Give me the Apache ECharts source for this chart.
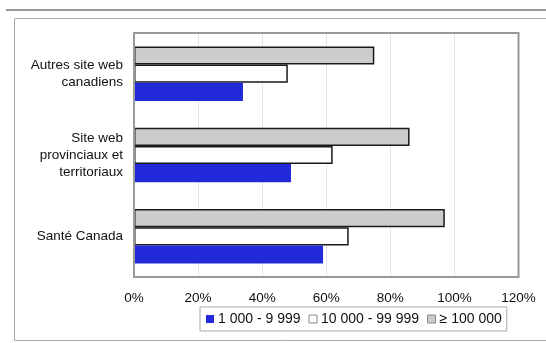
<!DOCTYPE html>
<html><head><meta charset="utf-8">
<script src="https://cdn.jsdelivr.net/npm/echarts@6/dist/echarts.min.js"></script>
<style>html,body{margin:0;padding:0;background:#fff}#c{width:546px;height:343px}</style>
</head><body><div id="c"></div>
<script>
var categories = ["Santé Canada", "Site web\nprovinciaux et\nterritoriaux", "Autres site web\ncanadiens"];
var seriesNames = ["1 000 - 9 999", "10 000 - 99 999", "≥ 100 000"];
var small = [59, 49, 34];
var medium = [67, 62, 48];
var large = [97, 86, 75];
var xTicks = [0, 20, 40, 60, 80, 100, 120];

var chart = echarts.init(document.getElementById('c'), null, {renderer: 'canvas'});
var font = 'Liberation Sans, Arial, sans-serif';
chart.setOption({
  animation: false,
  textStyle: {fontFamily: font},
  graphic: [
    {type: 'rect', shape: {x: 6, y: 9, width: 545, height: 2}, style: {fill: '#999'}, silent: true},
    {type: 'rect', shape: {x: 14.5, y: 18.5, width: 540, height: 322}, style: {fill: 'none', stroke: '#aaa', lineWidth: 1}, silent: true},
    {type: 'rect', shape: {x: 134, y: 33, width: 384.5, height: 244}, style: {fill: 'none', stroke: '#999', lineWidth: 2}, silent: true, z: 10}
  ],
  grid: {left: 134, right: 27.5, top: 33, bottom: 66, containLabel: false},
  xAxis: {
    type: 'value', min: xTicks[0], max: xTicks[xTicks.length - 1], interval: 20,
    axisLine: {show: false}, axisTick: {show: false},
    splitLine: {lineStyle: {color: '#e6e6e6', width: 1}},
    axisLabel: {formatter: '{value}%', color: '#111', fontSize: 13.5, margin: 14, fontFamily: font}
  },
  yAxis: {
    type: 'category', data: categories,
    axisLine: {show: true, lineStyle: {color: '#555', width: 2}}, axisTick: {show: false},
    axisLabel: {color: '#111', fontSize: 13.5, lineHeight: 17, margin: 11, fontFamily: font, align: 'right'}
  },
  legend: {
    data: [
      {name: seriesNames[0], itemStyle: {borderWidth: 0}},
      {name: seriesNames[1], itemStyle: {borderColor: '#888', borderWidth: 1}},
      {name: seriesNames[2], itemStyle: {borderColor: '#888', borderWidth: 1}}
    ],
    left: 200, top: 307, width: 320,
    icon: 'rect', itemWidth: 8, itemHeight: 8, itemGap: 8,
    borderColor: '#aaa', borderWidth: 1, padding: [5, 5, 5, 6],
    textStyle: {fontSize: 14, color: '#111', fontFamily: font, padding: [0, 0, 0, -1]}
  },
  series: [
    {name: seriesNames[2], type: 'bar', data: large, barGap: '0%', barCategoryGap: '33%',
     itemStyle: {color: '#cccccc', borderColor: '#1a1a1a', borderWidth: 1.5}},
    {name: seriesNames[1], type: 'bar', data: medium, barGap: '0%', barCategoryGap: '33%',
     itemStyle: {color: '#ffffff', borderColor: '#1a1a1a', borderWidth: 1.5}},
    {name: seriesNames[0], type: 'bar', data: small, barGap: '0%', barCategoryGap: '33%',
     itemStyle: {color: '#2129d9', borderColor: '#2129d9', borderWidth: 0}}
  ]
});
</script></body></html>
